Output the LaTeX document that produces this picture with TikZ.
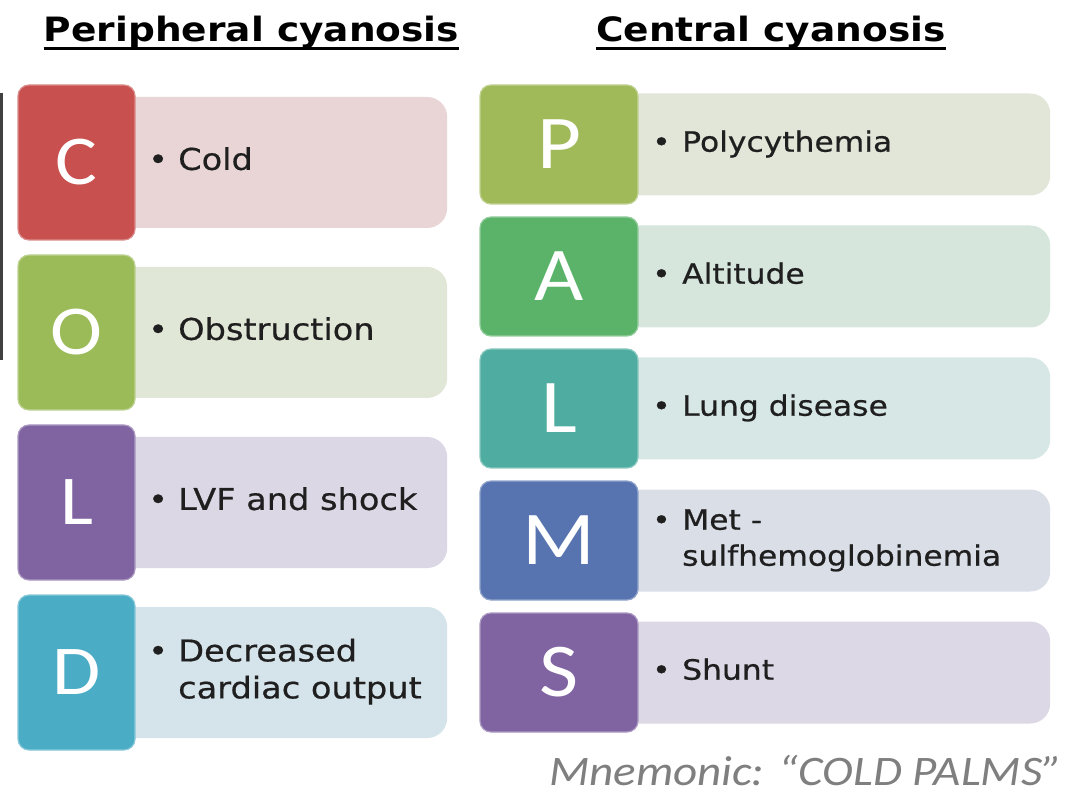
\documentclass[tikz,border=0pt]{standalone}
\usepackage{fontspec}
\setmainfont{DejaVu Sans}[FakeStretch=1.12]
\newfontfamily\bodyfont{DejaVu Sans}[FakeStretch=1.12, FakeBold=0.6]
\newfontfamily\letterfont{Carlito}[FakeStretch=1.12]
\newfontfamily\notefont{Carlito}[FakeStretch=1.12]
\definecolor{cC}{HTML}{C8504E}\definecolor{tC}{HTML}{E9D5D5}
\definecolor{cO}{HTML}{9BBB59}\definecolor{tO}{HTML}{E1E7D6}
\definecolor{cL}{HTML}{8064A2}\definecolor{tL}{HTML}{DCD7E4}
\definecolor{cD}{HTML}{4BACC6}\definecolor{tD}{HTML}{D5E3EA}
\definecolor{cP}{HTML}{A0BA5A}\definecolor{tP}{HTML}{E2E6D8}
\definecolor{cA}{HTML}{5BB36A}\definecolor{tA}{HTML}{D6E6DD}
\definecolor{cLr}{HTML}{4EACA0}\definecolor{tLr}{HTML}{D6E7E5}
\definecolor{cM}{HTML}{5774B0}\definecolor{tM}{HTML}{D9DEE7}
\definecolor{cS}{HTML}{8064A2}\definecolor{tS}{HTML}{DDD8E5}
\definecolor{notegray}{HTML}{7F7F7F}
\newcommand{\itm}[1]{\makebox[30pt][l]{•}\begin{tabular}[t]{@{}l@{}}#1\end{tabular}}
\begin{document}
\begin{tikzpicture}[x=1pt,y=-1pt,
  lbox/.style={fill=#1, draw=#1!65!white, line width=1.2pt, rounded corners=11pt,
    text=white, inner sep=0pt},
  lboxL/.style={lbox=#1, minimum width=117pt, minimum height=155pt,
    font=\letterfont\fontsize{70}{70}\selectfont},
  lboxR/.style={lbox=#1, minimum width=158pt, minimum height=119pt,
    font=\letterfont\fontsize{76}{76}\selectfont},
  tbox/.style={fill=#1, draw=none, rounded corners=20pt, anchor=west, inner sep=0pt},
  tboxL/.style={tbox=#1, minimum width=347pt, minimum height=131pt},
  tboxR/.style={tbox=#1, minimum width=490pt, minimum height=102pt},
  itemL/.style={anchor=west, inner sep=0pt, text=black!88, font=\bodyfont\fontsize{30}{37}\selectfont},
  itemR/.style={anchor=west, inner sep=0pt, text=black!88, font=\bodyfont\fontsize{28}{36}\selectfont},
  title/.style={inner sep=0pt, anchor=base, font=\bfseries\fontsize{33.5}{40}\selectfont},
  uline/.style={line width=3pt}
]
\useasboundingbox (0,0) rectangle (1080,810);
\fill[white] (0,0) rectangle (1080,810);
\fill[black!75] (0,93) rectangle (2.5,360);

% titles
\node[title] (T1) at (251.5,42) {Peripheral cyanosis};
\node[title] (T2) at (771,42) {Central cyanosis};
\draw[uline] ([yshift=-6.5pt]T1.base west) -- ([yshift=-6.5pt]T1.base east);
\draw[uline] ([yshift=-6.5pt]T2.base west) -- ([yshift=-6.5pt]T2.base east);

% left column: COLD
\node[tboxL=tC] (Ct) at (100,162.5) {};
\node[tboxL=tO] (Ot) at (100,332.5) {};
\node[tboxL=tL] (Lt) at (100,502.5) {};
\node[tboxL=tD] (Dt) at (100,672.5) {};
\node[lboxL=cC] (C) at (76.5,162.5) {C};
\node[lboxL=cO] (O) at (76.5,332.5) {O};
\node[lboxL=cL] (L) at (76.5,502.5) {L};
\node[lboxL=cD] (D) at (76.5,672.5) {D};
\node[itemL] (Cx) at (148,162.5) {\itm{Cold}};
\node[itemL] (Ox) at (148,332.5) {\itm{Obstruction}};
\node[itemL] (Lx) at (148,502.5) {\itm{LVF and shock}};
\node[itemL] (Dx) at (148,672.5) {\itm{Decreased\\cardiac output}};

% right column: PALMS
\node[tboxR=tP] (Pt) at (560,144.5) {};
\node[tboxR=tA] (At) at (560,276.5) {};
\node[tboxR=tLr] (Lrt) at (560,408.5) {};
\node[tboxR=tM] (Mt) at (560,540.5) {};
\node[tboxR=tS] (St) at (560,672.5) {};
\node[lboxR=cP] (P) at (559,144.5) {P};
\node[lboxR=cA] (A) at (559,276.5) {A};
\node[lboxR=cLr] (Lr) at (559,408.5) {L};
\node[lboxR=cM] (M) at (559,540.5) {M};
\node[lboxR=cS] (S) at (559,672.5) {S};
\node[itemR] (Px) at (652,144.5) {\itm{Polycythemia}};
\node[itemR] (Ax) at (652,276.5) {\itm{Altitude}};
\node[itemR] (Lrx) at (652,408.5) {\itm{Lung disease}};
\node[itemR] (Mx) at (652,540.5) {\itm{Met -\\sulfhemoglobinemia}};
\node[itemR] (Sx) at (652,672.5) {\itm{Shunt}};

% note
\node[anchor=base east, inner sep=0pt, text=notegray, font=\notefont\itshape\fontsize{42}{42}\selectfont] (note) at (1062,785) {Mnemonic: “COLD PALMS”};
\end{tikzpicture}
\end{document}
